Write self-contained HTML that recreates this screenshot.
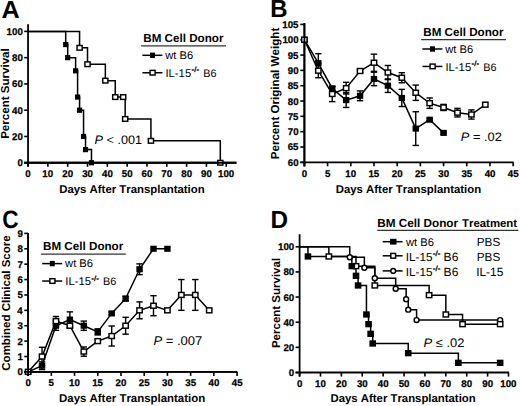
<!DOCTYPE html>
<html><head><meta charset="utf-8"><style>
html,body{margin:0;padding:0;background:#fff;}
body{width:520px;height:406px;overflow:hidden;}
.tk{stroke:#000;stroke-width:0.25px;}
.sp{stroke:#000;stroke-width:0.35px;}
svg{display:block;font-family:"Liberation Sans", sans-serif;font-kerning:none;text-rendering:geometricPrecision;}
</style></head><body>
<svg width="520" height="406" viewBox="0 0 520 406">
<rect width="520" height="406" fill="#fff"/>
<text x="1.47" y="17.6" font-size="24.8" font-weight="bold" textLength="18.19" lengthAdjust="spacingAndGlyphs" fill="#000">A</text>
<line x1="28.05" y1="24.3" x2="28.05" y2="166.8" stroke="#000" stroke-width="1.8"/>
<line x1="24.2" y1="162.75" x2="236.4" y2="162.75" stroke="#000" stroke-width="1.8"/>
<line x1="24.2" y1="162.75" x2="28.05" y2="162.75" stroke="#000" stroke-width="1.6"/>
<text x="17.4" y="166" font-size="9.7" font-weight="bold" class="tk" textLength="5.39" lengthAdjust="spacingAndGlyphs" fill="#000">0</text>
<line x1="24.2" y1="136.48" x2="28.05" y2="136.48" stroke="#000" stroke-width="1.6"/>
<text x="12.01" y="140" font-size="9.7" font-weight="bold" class="tk" textLength="10.79" lengthAdjust="spacingAndGlyphs" fill="#000">20</text>
<line x1="24.2" y1="110.21" x2="28.05" y2="110.21" stroke="#000" stroke-width="1.6"/>
<text x="12.01" y="114" font-size="9.7" font-weight="bold" class="tk" textLength="10.79" lengthAdjust="spacingAndGlyphs" fill="#000">40</text>
<line x1="24.2" y1="83.94" x2="28.05" y2="83.94" stroke="#000" stroke-width="1.6"/>
<text x="12.01" y="87" font-size="9.7" font-weight="bold" class="tk" textLength="10.79" lengthAdjust="spacingAndGlyphs" fill="#000">60</text>
<line x1="24.2" y1="57.67" x2="28.05" y2="57.67" stroke="#000" stroke-width="1.6"/>
<text x="12.01" y="61" font-size="9.7" font-weight="bold" class="tk" textLength="10.79" lengthAdjust="spacingAndGlyphs" fill="#000">80</text>
<line x1="24.2" y1="31.4" x2="28.05" y2="31.4" stroke="#000" stroke-width="1.6"/>
<text x="6.61" y="35" font-size="9.7" font-weight="bold" class="tk" textLength="16.18" lengthAdjust="spacingAndGlyphs" fill="#000">100</text>
<line x1="28.05" y1="162.75" x2="28.05" y2="166.8" stroke="#000" stroke-width="1.6"/>
<text x="25.36" y="177.4" font-size="9.7" font-weight="bold" class="tk" textLength="5.39" lengthAdjust="spacingAndGlyphs" fill="#000">0</text>
<line x1="47.87" y1="162.75" x2="47.87" y2="166.8" stroke="#000" stroke-width="1.6"/>
<text x="42.37" y="177.4" font-size="9.7" font-weight="bold" class="tk" textLength="10.79" lengthAdjust="spacingAndGlyphs" fill="#000">10</text>
<line x1="67.69" y1="162.75" x2="67.69" y2="166.8" stroke="#000" stroke-width="1.6"/>
<text x="62.33" y="177.4" font-size="9.7" font-weight="bold" class="tk" textLength="10.79" lengthAdjust="spacingAndGlyphs" fill="#000">20</text>
<line x1="87.51" y1="162.75" x2="87.51" y2="166.8" stroke="#000" stroke-width="1.6"/>
<text x="82.2" y="177.4" font-size="9.7" font-weight="bold" class="tk" textLength="10.79" lengthAdjust="spacingAndGlyphs" fill="#000">30</text>
<line x1="107.33" y1="162.75" x2="107.33" y2="166.8" stroke="#000" stroke-width="1.6"/>
<text x="102.06" y="177.4" font-size="9.7" font-weight="bold" class="tk" textLength="10.79" lengthAdjust="spacingAndGlyphs" fill="#000">40</text>
<line x1="127.15" y1="162.75" x2="127.15" y2="166.8" stroke="#000" stroke-width="1.6"/>
<text x="121.81" y="177.4" font-size="9.7" font-weight="bold" class="tk" textLength="10.79" lengthAdjust="spacingAndGlyphs" fill="#000">50</text>
<line x1="146.97" y1="162.75" x2="146.97" y2="166.8" stroke="#000" stroke-width="1.6"/>
<text x="141.6" y="177.4" font-size="9.7" font-weight="bold" class="tk" textLength="10.79" lengthAdjust="spacingAndGlyphs" fill="#000">60</text>
<line x1="166.79" y1="162.75" x2="166.79" y2="166.8" stroke="#000" stroke-width="1.6"/>
<text x="161.39" y="177.4" font-size="9.7" font-weight="bold" class="tk" textLength="10.79" lengthAdjust="spacingAndGlyphs" fill="#000">70</text>
<line x1="186.61" y1="162.75" x2="186.61" y2="166.8" stroke="#000" stroke-width="1.6"/>
<text x="181.26" y="177.4" font-size="9.7" font-weight="bold" class="tk" textLength="10.79" lengthAdjust="spacingAndGlyphs" fill="#000">80</text>
<line x1="206.43" y1="162.75" x2="206.43" y2="166.8" stroke="#000" stroke-width="1.6"/>
<text x="201.07" y="177.4" font-size="9.7" font-weight="bold" class="tk" textLength="10.79" lengthAdjust="spacingAndGlyphs" fill="#000">90</text>
<line x1="226.25" y1="162.75" x2="226.25" y2="166.8" stroke="#000" stroke-width="1.6"/>
<text x="218.05" y="177.4" font-size="9.7" font-weight="bold" class="tk" textLength="16.18" lengthAdjust="spacingAndGlyphs" fill="#000">100</text>
<text x="59.24" y="192.6" font-size="11.38" font-weight="bold" textLength="145.47" lengthAdjust="spacingAndGlyphs" fill="#000">Days After Transplantation</text>
<text transform="translate(8.9,138.1) rotate(-90)" x="-0.77" y="0" font-size="11.56" font-weight="bold" textLength="90.59" lengthAdjust="spacingAndGlyphs">Percent Survival</text>
<polyline points="28.05,31.4 79.58,31.4 79.58,47.82 87.51,47.82 87.51,64.24 105.35,64.24 105.35,80.66 115.26,80.66 115.26,97.08 125.17,97.08 125.17,118.97 150.93,118.97 150.93,140.86 220.3,140.86 220.3,162.75" fill="none" stroke="#000" stroke-width="1.5" stroke-linejoin="miter" stroke-linecap="butt"/>
<polyline points="28.05,31.4 65.71,31.4 65.71,44.54 67.69,44.54 67.69,57.67 75.62,57.67 75.62,70.81 77.6,70.81 77.6,97.08 79.58,97.08 79.58,110.21 83.55,110.21 83.55,136.48 85.53,136.48 85.53,149.62 91.47,149.62 91.47,162.75" fill="none" stroke="#000" stroke-width="1.5" stroke-linejoin="miter" stroke-linecap="butt"/>
<rect x="63.11" y="41.94" width="5.2" height="5.2" fill="#000"/>
<rect x="65.09" y="55.07" width="5.2" height="5.2" fill="#000"/>
<rect x="73.02" y="68.21" width="5.2" height="5.2" fill="#000"/>
<rect x="75" y="94.48" width="5.2" height="5.2" fill="#000"/>
<rect x="76.98" y="107.61" width="5.2" height="5.2" fill="#000"/>
<rect x="80.95" y="133.88" width="5.2" height="5.2" fill="#000"/>
<rect x="82.93" y="147.02" width="5.2" height="5.2" fill="#000"/>
<rect x="88.87" y="160.15" width="5.2" height="5.2" fill="#000"/>
<rect x="77.01" y="45.49" width="5.15" height="4.65" fill="#fff" stroke="#000" stroke-width="1.45"/>
<rect x="84.94" y="61.91" width="5.15" height="4.65" fill="#fff" stroke="#000" stroke-width="1.45"/>
<rect x="102.77" y="78.33" width="5.15" height="4.65" fill="#fff" stroke="#000" stroke-width="1.45"/>
<rect x="112.68" y="94.75" width="5.15" height="4.65" fill="#fff" stroke="#000" stroke-width="1.45"/>
<rect x="122.59" y="116.64" width="5.15" height="4.65" fill="#fff" stroke="#000" stroke-width="1.45"/>
<rect x="148.36" y="138.53" width="5.15" height="4.65" fill="#fff" stroke="#000" stroke-width="1.45"/>
<rect x="217.73" y="160.43" width="5.15" height="4.65" fill="#fff" stroke="#000" stroke-width="1.45"/>
<rect x="120.61" y="94.75" width="5.15" height="4.65" fill="#fff" stroke="#000" stroke-width="1.45"/>
<line x1="24.2" y1="162.75" x2="236.4" y2="162.75" stroke="#000" stroke-width="1.8"/>
<text x="94.61" y="144.2" font-size="12.2" textLength="47.51" lengthAdjust="spacingAndGlyphs"><tspan font-style="italic">P</tspan>&#160;&lt;&#160;.001</text>
<text x="143.22" y="42.1" font-size="11.65" font-weight="bold" textLength="80.26" lengthAdjust="spacingAndGlyphs" fill="#000">BM Cell Donor</text>
<line x1="141.1" y1="45.9" x2="226" y2="45.9" stroke="#333" stroke-width="1.3"/>
<line x1="142.4" y1="55.3" x2="162.4" y2="55.3" stroke="#000" stroke-width="1.5"/>
<rect x="150" y="52.6" width="5" height="5.4" fill="#000"/>
<text x="165.27" y="59" font-size="11.19" font-weight="normal" textLength="27.98" lengthAdjust="spacingAndGlyphs" fill="#000">wt B6</text>
<line x1="142.4" y1="72.75" x2="162.4" y2="72.75" stroke="#000" stroke-width="1.5"/>
<rect x="150.07" y="70.38" width="5.05" height="4.65" fill="#fff" stroke="#000" stroke-width="1.45"/>
<text x="165.46" y="76.9" font-size="11.28" font-weight="normal" textLength="25.71" lengthAdjust="spacingAndGlyphs" fill="#000">IL-15</text>
<text x="191.55" y="72.4" font-size="7.5" font-weight="normal" class="sp" textLength="7.51" lengthAdjust="spacingAndGlyphs" fill="#000">-/-</text>
<text x="203.21" y="76.9" font-size="10.85" font-weight="normal" textLength="13.27" lengthAdjust="spacingAndGlyphs" fill="#000">B6</text>
<text x="270.2" y="17.4" font-size="24.6" font-weight="bold" textLength="17.29" lengthAdjust="spacingAndGlyphs" fill="#000">B</text>
<line x1="304.4" y1="23.1" x2="304.4" y2="166.3" stroke="#000" stroke-width="1.8"/>
<line x1="300.3" y1="162.3" x2="513.6" y2="162.3" stroke="#000" stroke-width="1.8"/>
<line x1="300.3" y1="162.3" x2="304.4" y2="162.3" stroke="#000" stroke-width="1.6"/>
<text x="287.81" y="166" font-size="9.7" font-weight="bold" class="tk" textLength="10.79" lengthAdjust="spacingAndGlyphs" fill="#000">60</text>
<line x1="300.3" y1="146.98" x2="304.4" y2="146.98" stroke="#000" stroke-width="1.6"/>
<text x="287.68" y="150" font-size="9.7" font-weight="bold" class="tk" textLength="10.79" lengthAdjust="spacingAndGlyphs" fill="#000">65</text>
<line x1="300.3" y1="131.66" x2="304.4" y2="131.66" stroke="#000" stroke-width="1.6"/>
<text x="287.81" y="135" font-size="9.7" font-weight="bold" class="tk" textLength="10.79" lengthAdjust="spacingAndGlyphs" fill="#000">70</text>
<line x1="300.3" y1="116.34" x2="304.4" y2="116.34" stroke="#000" stroke-width="1.6"/>
<text x="287.68" y="120" font-size="9.7" font-weight="bold" class="tk" textLength="10.79" lengthAdjust="spacingAndGlyphs" fill="#000">75</text>
<line x1="300.3" y1="101.02" x2="304.4" y2="101.02" stroke="#000" stroke-width="1.6"/>
<text x="287.81" y="105" font-size="9.7" font-weight="bold" class="tk" textLength="10.79" lengthAdjust="spacingAndGlyphs" fill="#000">80</text>
<line x1="300.3" y1="85.7" x2="304.4" y2="85.7" stroke="#000" stroke-width="1.6"/>
<text x="287.68" y="89" font-size="9.7" font-weight="bold" class="tk" textLength="10.79" lengthAdjust="spacingAndGlyphs" fill="#000">85</text>
<line x1="300.3" y1="70.38" x2="304.4" y2="70.38" stroke="#000" stroke-width="1.6"/>
<text x="287.81" y="74" font-size="9.7" font-weight="bold" class="tk" textLength="10.79" lengthAdjust="spacingAndGlyphs" fill="#000">90</text>
<line x1="300.3" y1="55.06" x2="304.4" y2="55.06" stroke="#000" stroke-width="1.6"/>
<text x="287.68" y="59" font-size="9.7" font-weight="bold" class="tk" textLength="10.79" lengthAdjust="spacingAndGlyphs" fill="#000">95</text>
<line x1="300.3" y1="39.74" x2="304.4" y2="39.74" stroke="#000" stroke-width="1.6"/>
<text x="282.41" y="43" font-size="9.7" font-weight="bold" class="tk" textLength="16.18" lengthAdjust="spacingAndGlyphs" fill="#000">100</text>
<line x1="300.3" y1="24.42" x2="304.4" y2="24.42" stroke="#000" stroke-width="1.6"/>
<text x="282.29" y="28" font-size="9.7" font-weight="bold" class="tk" textLength="16.18" lengthAdjust="spacingAndGlyphs" fill="#000">105</text>
<line x1="304.4" y1="162.3" x2="304.4" y2="166.3" stroke="#000" stroke-width="1.6"/>
<text x="301.71" y="177.1" font-size="9.7" font-weight="bold" class="tk" textLength="5.39" lengthAdjust="spacingAndGlyphs" fill="#000">0</text>
<line x1="327.59" y1="162.3" x2="327.59" y2="166.3" stroke="#000" stroke-width="1.6"/>
<text x="324.88" y="177.1" font-size="9.7" font-weight="bold" class="tk" textLength="5.39" lengthAdjust="spacingAndGlyphs" fill="#000">5</text>
<line x1="350.79" y1="162.3" x2="350.79" y2="166.3" stroke="#000" stroke-width="1.6"/>
<text x="345.29" y="177.1" font-size="9.7" font-weight="bold" class="tk" textLength="10.79" lengthAdjust="spacingAndGlyphs" fill="#000">10</text>
<line x1="373.99" y1="162.3" x2="373.99" y2="166.3" stroke="#000" stroke-width="1.6"/>
<text x="368.42" y="177.1" font-size="9.7" font-weight="bold" class="tk" textLength="10.79" lengthAdjust="spacingAndGlyphs" fill="#000">15</text>
<line x1="397.18" y1="162.3" x2="397.18" y2="166.3" stroke="#000" stroke-width="1.6"/>
<text x="391.82" y="177.1" font-size="9.7" font-weight="bold" class="tk" textLength="10.79" lengthAdjust="spacingAndGlyphs" fill="#000">20</text>
<line x1="420.38" y1="162.3" x2="420.38" y2="166.3" stroke="#000" stroke-width="1.6"/>
<text x="414.95" y="177.1" font-size="9.7" font-weight="bold" class="tk" textLength="10.79" lengthAdjust="spacingAndGlyphs" fill="#000">25</text>
<line x1="443.57" y1="162.3" x2="443.57" y2="166.3" stroke="#000" stroke-width="1.6"/>
<text x="438.26" y="177.1" font-size="9.7" font-weight="bold" class="tk" textLength="10.79" lengthAdjust="spacingAndGlyphs" fill="#000">30</text>
<line x1="466.76" y1="162.3" x2="466.76" y2="166.3" stroke="#000" stroke-width="1.6"/>
<text x="461.39" y="177.1" font-size="9.7" font-weight="bold" class="tk" textLength="10.79" lengthAdjust="spacingAndGlyphs" fill="#000">35</text>
<line x1="489.96" y1="162.3" x2="489.96" y2="166.3" stroke="#000" stroke-width="1.6"/>
<text x="484.69" y="177.1" font-size="9.7" font-weight="bold" class="tk" textLength="10.79" lengthAdjust="spacingAndGlyphs" fill="#000">40</text>
<line x1="513.15" y1="162.3" x2="513.15" y2="166.3" stroke="#000" stroke-width="1.6"/>
<text x="507.82" y="177.1" font-size="9.7" font-weight="bold" class="tk" textLength="10.79" lengthAdjust="spacingAndGlyphs" fill="#000">45</text>
<text x="335.74" y="192.6" font-size="11.38" font-weight="bold" textLength="145.47" lengthAdjust="spacingAndGlyphs" fill="#000">Days After Transplantation</text>
<text transform="translate(278.8,158.55) rotate(-90)" x="-0.78" y="0" font-size="11.61" font-weight="bold" textLength="131.57" lengthAdjust="spacingAndGlyphs">Percent Original Weight</text>
<line x1="318.32" y1="53.68" x2="318.32" y2="72.68" stroke="#000" stroke-width="1.4"/>
<line x1="315.12" y1="53.68" x2="321.52" y2="53.68" stroke="#000" stroke-width="1.4"/>
<line x1="315.12" y1="72.68" x2="321.52" y2="72.68" stroke="#000" stroke-width="1.4"/>
<line x1="332.23" y1="86.62" x2="332.23" y2="90.3" stroke="#000" stroke-width="1.4"/>
<line x1="329.03" y1="86.62" x2="335.43" y2="86.62" stroke="#000" stroke-width="1.4"/>
<line x1="329.03" y1="90.3" x2="335.43" y2="90.3" stroke="#000" stroke-width="1.4"/>
<line x1="346.15" y1="92.75" x2="346.15" y2="107.45" stroke="#000" stroke-width="1.4"/>
<line x1="342.95" y1="92.75" x2="349.35" y2="92.75" stroke="#000" stroke-width="1.4"/>
<line x1="342.95" y1="107.45" x2="349.35" y2="107.45" stroke="#000" stroke-width="1.4"/>
<line x1="360.07" y1="90.91" x2="360.07" y2="100.71" stroke="#000" stroke-width="1.4"/>
<line x1="356.87" y1="90.91" x2="363.27" y2="90.91" stroke="#000" stroke-width="1.4"/>
<line x1="356.87" y1="100.71" x2="363.27" y2="100.71" stroke="#000" stroke-width="1.4"/>
<line x1="373.99" y1="72.22" x2="373.99" y2="85.7" stroke="#000" stroke-width="1.4"/>
<line x1="370.79" y1="72.22" x2="377.19" y2="72.22" stroke="#000" stroke-width="1.4"/>
<line x1="370.79" y1="85.7" x2="377.19" y2="85.7" stroke="#000" stroke-width="1.4"/>
<line x1="387.9" y1="78.96" x2="387.9" y2="92.44" stroke="#000" stroke-width="1.4"/>
<line x1="384.7" y1="78.96" x2="391.1" y2="78.96" stroke="#000" stroke-width="1.4"/>
<line x1="384.7" y1="92.44" x2="391.1" y2="92.44" stroke="#000" stroke-width="1.4"/>
<line x1="401.82" y1="89.38" x2="401.82" y2="106.54" stroke="#000" stroke-width="1.4"/>
<line x1="398.62" y1="89.38" x2="405.02" y2="89.38" stroke="#000" stroke-width="1.4"/>
<line x1="398.62" y1="106.54" x2="405.02" y2="106.54" stroke="#000" stroke-width="1.4"/>
<line x1="415.74" y1="111.74" x2="415.74" y2="145.45" stroke="#000" stroke-width="1.4"/>
<line x1="412.54" y1="111.74" x2="418.94" y2="111.74" stroke="#000" stroke-width="1.4"/>
<line x1="412.54" y1="145.45" x2="418.94" y2="145.45" stroke="#000" stroke-width="1.4"/>
<line x1="429.65" y1="118.48" x2="429.65" y2="120.94" stroke="#000" stroke-width="1.4"/>
<line x1="426.45" y1="118.48" x2="432.85" y2="118.48" stroke="#000" stroke-width="1.4"/>
<line x1="426.45" y1="120.94" x2="432.85" y2="120.94" stroke="#000" stroke-width="1.4"/>
<line x1="443.57" y1="131.66" x2="443.57" y2="134.11" stroke="#000" stroke-width="1.4"/>
<line x1="440.37" y1="131.66" x2="446.77" y2="131.66" stroke="#000" stroke-width="1.4"/>
<line x1="440.37" y1="134.11" x2="446.77" y2="134.11" stroke="#000" stroke-width="1.4"/>
<line x1="318.32" y1="63.64" x2="318.32" y2="77.73" stroke="#000" stroke-width="1.4"/>
<line x1="315.12" y1="63.64" x2="321.52" y2="63.64" stroke="#000" stroke-width="1.4"/>
<line x1="315.12" y1="77.73" x2="321.52" y2="77.73" stroke="#000" stroke-width="1.4"/>
<line x1="332.23" y1="86.31" x2="332.23" y2="101.63" stroke="#000" stroke-width="1.4"/>
<line x1="329.03" y1="86.31" x2="335.43" y2="86.31" stroke="#000" stroke-width="1.4"/>
<line x1="329.03" y1="101.63" x2="335.43" y2="101.63" stroke="#000" stroke-width="1.4"/>
<line x1="346.15" y1="82.33" x2="346.15" y2="93.97" stroke="#000" stroke-width="1.4"/>
<line x1="342.95" y1="82.33" x2="349.35" y2="82.33" stroke="#000" stroke-width="1.4"/>
<line x1="342.95" y1="93.97" x2="349.35" y2="93.97" stroke="#000" stroke-width="1.4"/>
<line x1="360.07" y1="69.77" x2="360.07" y2="72.22" stroke="#000" stroke-width="1.4"/>
<line x1="356.87" y1="69.77" x2="363.27" y2="69.77" stroke="#000" stroke-width="1.4"/>
<line x1="356.87" y1="72.22" x2="363.27" y2="72.22" stroke="#000" stroke-width="1.4"/>
<line x1="373.99" y1="54.14" x2="373.99" y2="71.3" stroke="#000" stroke-width="1.4"/>
<line x1="370.79" y1="54.14" x2="377.19" y2="54.14" stroke="#000" stroke-width="1.4"/>
<line x1="370.79" y1="71.3" x2="377.19" y2="71.3" stroke="#000" stroke-width="1.4"/>
<line x1="387.9" y1="65.48" x2="387.9" y2="79.57" stroke="#000" stroke-width="1.4"/>
<line x1="384.7" y1="65.48" x2="391.1" y2="65.48" stroke="#000" stroke-width="1.4"/>
<line x1="384.7" y1="79.57" x2="391.1" y2="79.57" stroke="#000" stroke-width="1.4"/>
<line x1="401.82" y1="72.68" x2="401.82" y2="82.79" stroke="#000" stroke-width="1.4"/>
<line x1="398.62" y1="72.68" x2="405.02" y2="72.68" stroke="#000" stroke-width="1.4"/>
<line x1="398.62" y1="82.79" x2="405.02" y2="82.79" stroke="#000" stroke-width="1.4"/>
<line x1="415.74" y1="85.09" x2="415.74" y2="100.41" stroke="#000" stroke-width="1.4"/>
<line x1="412.54" y1="85.09" x2="418.94" y2="85.09" stroke="#000" stroke-width="1.4"/>
<line x1="412.54" y1="100.41" x2="418.94" y2="100.41" stroke="#000" stroke-width="1.4"/>
<line x1="429.65" y1="97.96" x2="429.65" y2="108.37" stroke="#000" stroke-width="1.4"/>
<line x1="426.45" y1="97.96" x2="432.85" y2="97.96" stroke="#000" stroke-width="1.4"/>
<line x1="426.45" y1="108.37" x2="432.85" y2="108.37" stroke="#000" stroke-width="1.4"/>
<line x1="443.57" y1="104.39" x2="443.57" y2="110.52" stroke="#000" stroke-width="1.4"/>
<line x1="440.37" y1="104.39" x2="446.77" y2="104.39" stroke="#000" stroke-width="1.4"/>
<line x1="440.37" y1="110.52" x2="446.77" y2="110.52" stroke="#000" stroke-width="1.4"/>
<line x1="457.49" y1="108.37" x2="457.49" y2="116.95" stroke="#000" stroke-width="1.4"/>
<line x1="454.29" y1="108.37" x2="460.69" y2="108.37" stroke="#000" stroke-width="1.4"/>
<line x1="454.29" y1="116.95" x2="460.69" y2="116.95" stroke="#000" stroke-width="1.4"/>
<line x1="471.4" y1="109.91" x2="471.4" y2="119.1" stroke="#000" stroke-width="1.4"/>
<line x1="468.2" y1="109.91" x2="474.6" y2="109.91" stroke="#000" stroke-width="1.4"/>
<line x1="468.2" y1="119.1" x2="474.6" y2="119.1" stroke="#000" stroke-width="1.4"/>
<polyline points="304.4,39.74 318.32,63.18 332.23,88.46 346.15,100.1 360.07,95.81 373.99,78.96 387.9,85.7 401.82,97.96 415.74,128.6 429.65,119.71 443.57,132.89" fill="none" stroke="#000" stroke-width="1.5" stroke-linejoin="miter" stroke-linecap="butt"/>
<polyline points="304.4,39.74 318.32,70.69 332.23,93.97 346.15,88.15 360.07,70.99 373.99,62.72 387.9,72.52 401.82,77.73 415.74,92.75 429.65,103.16 443.57,107.45 457.49,112.66 471.4,114.5 485.32,104.7" fill="none" stroke="#000" stroke-width="1.5" stroke-linejoin="miter" stroke-linecap="butt"/>
<rect x="301.2" y="36.69" width="6.4" height="6.1" fill="#000"/>
<rect x="315.12" y="60.13" width="6.4" height="6.1" fill="#000"/>
<rect x="329.03" y="85.41" width="6.4" height="6.1" fill="#000"/>
<rect x="342.95" y="97.05" width="6.4" height="6.1" fill="#000"/>
<rect x="356.87" y="92.76" width="6.4" height="6.1" fill="#000"/>
<rect x="370.79" y="75.91" width="6.4" height="6.1" fill="#000"/>
<rect x="384.7" y="82.65" width="6.4" height="6.1" fill="#000"/>
<rect x="398.62" y="94.91" width="6.4" height="6.1" fill="#000"/>
<rect x="412.54" y="125.55" width="6.4" height="6.1" fill="#000"/>
<rect x="426.45" y="116.66" width="6.4" height="6.1" fill="#000"/>
<rect x="440.37" y="129.84" width="6.4" height="6.1" fill="#000"/>
<rect x="301.72" y="37.27" width="5.35" height="4.95" fill="#fff" stroke="#000" stroke-width="1.45"/>
<rect x="315.64" y="68.21" width="5.35" height="4.95" fill="#fff" stroke="#000" stroke-width="1.45"/>
<rect x="329.56" y="91.5" width="5.35" height="4.95" fill="#fff" stroke="#000" stroke-width="1.45"/>
<rect x="343.48" y="85.68" width="5.35" height="4.95" fill="#fff" stroke="#000" stroke-width="1.45"/>
<rect x="357.39" y="68.52" width="5.35" height="4.95" fill="#fff" stroke="#000" stroke-width="1.45"/>
<rect x="371.31" y="60.25" width="5.35" height="4.95" fill="#fff" stroke="#000" stroke-width="1.45"/>
<rect x="385.23" y="70.05" width="5.35" height="4.95" fill="#fff" stroke="#000" stroke-width="1.45"/>
<rect x="399.14" y="75.26" width="5.35" height="4.95" fill="#fff" stroke="#000" stroke-width="1.45"/>
<rect x="413.06" y="90.27" width="5.35" height="4.95" fill="#fff" stroke="#000" stroke-width="1.45"/>
<rect x="426.98" y="100.69" width="5.35" height="4.95" fill="#fff" stroke="#000" stroke-width="1.45"/>
<rect x="440.89" y="104.98" width="5.35" height="4.95" fill="#fff" stroke="#000" stroke-width="1.45"/>
<rect x="454.81" y="110.19" width="5.35" height="4.95" fill="#fff" stroke="#000" stroke-width="1.45"/>
<rect x="468.73" y="112.03" width="5.35" height="4.95" fill="#fff" stroke="#000" stroke-width="1.45"/>
<rect x="482.65" y="102.22" width="5.35" height="4.95" fill="#fff" stroke="#000" stroke-width="1.45"/>
<line x1="304.4" y1="23.1" x2="304.4" y2="166.3" stroke="#000" stroke-width="1.8"/>
<text x="460.86" y="140.5" font-size="12.2" textLength="40.99" lengthAdjust="spacingAndGlyphs"><tspan font-style="italic">P</tspan>&#160;=&#160;.02</text>
<text x="423.22" y="35.8" font-size="11.65" font-weight="bold" textLength="80.26" lengthAdjust="spacingAndGlyphs" fill="#000">BM Cell Donor</text>
<line x1="421.1" y1="39.6" x2="506" y2="39.6" stroke="#333" stroke-width="1.3"/>
<line x1="422.4" y1="49" x2="442.4" y2="49" stroke="#000" stroke-width="1.5"/>
<rect x="430" y="46.3" width="5" height="5.4" fill="#000"/>
<text x="445.27" y="52.7" font-size="11.19" font-weight="normal" textLength="27.98" lengthAdjust="spacingAndGlyphs" fill="#000">wt B6</text>
<line x1="422.4" y1="66.45" x2="442.4" y2="66.45" stroke="#000" stroke-width="1.5"/>
<rect x="430.08" y="64.08" width="5.05" height="4.65" fill="#fff" stroke="#000" stroke-width="1.45"/>
<text x="445.46" y="70.6" font-size="11.28" font-weight="normal" textLength="25.71" lengthAdjust="spacingAndGlyphs" fill="#000">IL-15</text>
<text x="471.55" y="66.1" font-size="7.5" font-weight="normal" class="sp" textLength="7.51" lengthAdjust="spacingAndGlyphs" fill="#000">-/-</text>
<text x="483.21" y="70.6" font-size="10.85" font-weight="normal" textLength="13.27" lengthAdjust="spacingAndGlyphs" fill="#000">B6</text>
<text x="2.37" y="227.95" font-size="25.2" font-weight="bold" textLength="16.35" lengthAdjust="spacingAndGlyphs" fill="#000">C</text>
<line x1="28.1" y1="233" x2="28.1" y2="375.9" stroke="#000" stroke-width="1.8"/>
<line x1="24.3" y1="371.9" x2="237.2" y2="371.9" stroke="#000" stroke-width="1.8"/>
<line x1="24.3" y1="371.9" x2="28.1" y2="371.9" stroke="#000" stroke-width="1.6"/>
<text x="17.5" y="375" font-size="9.7" font-weight="bold" class="tk" textLength="5.39" lengthAdjust="spacingAndGlyphs" fill="#000">0</text>
<line x1="24.3" y1="356.51" x2="28.1" y2="356.51" stroke="#000" stroke-width="1.6"/>
<text x="17.38" y="360" font-size="9.7" font-weight="bold" class="tk" textLength="5.39" lengthAdjust="spacingAndGlyphs" fill="#000">1</text>
<line x1="24.3" y1="341.12" x2="28.1" y2="341.12" stroke="#000" stroke-width="1.6"/>
<text x="17.49" y="345" font-size="9.7" font-weight="bold" class="tk" textLength="5.39" lengthAdjust="spacingAndGlyphs" fill="#000">2</text>
<line x1="24.3" y1="325.73" x2="28.1" y2="325.73" stroke="#000" stroke-width="1.6"/>
<text x="17.46" y="329" font-size="9.7" font-weight="bold" class="tk" textLength="5.39" lengthAdjust="spacingAndGlyphs" fill="#000">3</text>
<line x1="24.3" y1="310.34" x2="28.1" y2="310.34" stroke="#000" stroke-width="1.6"/>
<text x="17.16" y="314" font-size="9.7" font-weight="bold" class="tk" textLength="5.39" lengthAdjust="spacingAndGlyphs" fill="#000">4</text>
<line x1="24.3" y1="294.95" x2="28.1" y2="294.95" stroke="#000" stroke-width="1.6"/>
<text x="17.38" y="298" font-size="9.7" font-weight="bold" class="tk" textLength="5.39" lengthAdjust="spacingAndGlyphs" fill="#000">5</text>
<line x1="24.3" y1="279.56" x2="28.1" y2="279.56" stroke="#000" stroke-width="1.6"/>
<text x="17.46" y="283" font-size="9.7" font-weight="bold" class="tk" textLength="5.39" lengthAdjust="spacingAndGlyphs" fill="#000">6</text>
<line x1="24.3" y1="264.17" x2="28.1" y2="264.17" stroke="#000" stroke-width="1.6"/>
<text x="17.53" y="268" font-size="9.7" font-weight="bold" class="tk" textLength="5.39" lengthAdjust="spacingAndGlyphs" fill="#000">7</text>
<line x1="24.3" y1="248.78" x2="28.1" y2="248.78" stroke="#000" stroke-width="1.6"/>
<text x="17.4" y="252" font-size="9.7" font-weight="bold" class="tk" textLength="5.39" lengthAdjust="spacingAndGlyphs" fill="#000">8</text>
<line x1="24.3" y1="233.39" x2="28.1" y2="233.39" stroke="#000" stroke-width="1.6"/>
<text x="17.47" y="237" font-size="9.7" font-weight="bold" class="tk" textLength="5.39" lengthAdjust="spacingAndGlyphs" fill="#000">9</text>
<line x1="28.1" y1="371.9" x2="28.1" y2="375.9" stroke="#000" stroke-width="1.6"/>
<text x="25.41" y="386.1" font-size="9.7" font-weight="bold" class="tk" textLength="5.39" lengthAdjust="spacingAndGlyphs" fill="#000">0</text>
<line x1="51.32" y1="371.9" x2="51.32" y2="375.9" stroke="#000" stroke-width="1.6"/>
<text x="48.61" y="386.1" font-size="9.7" font-weight="bold" class="tk" textLength="5.39" lengthAdjust="spacingAndGlyphs" fill="#000">5</text>
<line x1="74.54" y1="371.9" x2="74.54" y2="375.9" stroke="#000" stroke-width="1.6"/>
<text x="69.04" y="386.1" font-size="9.7" font-weight="bold" class="tk" textLength="10.79" lengthAdjust="spacingAndGlyphs" fill="#000">10</text>
<line x1="97.76" y1="371.9" x2="97.76" y2="375.9" stroke="#000" stroke-width="1.6"/>
<text x="92.19" y="386.1" font-size="9.7" font-weight="bold" class="tk" textLength="10.79" lengthAdjust="spacingAndGlyphs" fill="#000">15</text>
<line x1="120.98" y1="371.9" x2="120.98" y2="375.9" stroke="#000" stroke-width="1.6"/>
<text x="115.62" y="386.1" font-size="9.7" font-weight="bold" class="tk" textLength="10.79" lengthAdjust="spacingAndGlyphs" fill="#000">20</text>
<line x1="144.2" y1="371.9" x2="144.2" y2="375.9" stroke="#000" stroke-width="1.6"/>
<text x="138.77" y="386.1" font-size="9.7" font-weight="bold" class="tk" textLength="10.79" lengthAdjust="spacingAndGlyphs" fill="#000">25</text>
<line x1="167.42" y1="371.9" x2="167.42" y2="375.9" stroke="#000" stroke-width="1.6"/>
<text x="162.11" y="386.1" font-size="9.7" font-weight="bold" class="tk" textLength="10.79" lengthAdjust="spacingAndGlyphs" fill="#000">30</text>
<line x1="190.64" y1="371.9" x2="190.64" y2="375.9" stroke="#000" stroke-width="1.6"/>
<text x="185.27" y="386.1" font-size="9.7" font-weight="bold" class="tk" textLength="10.79" lengthAdjust="spacingAndGlyphs" fill="#000">35</text>
<line x1="213.86" y1="371.9" x2="213.86" y2="375.9" stroke="#000" stroke-width="1.6"/>
<text x="208.59" y="386.1" font-size="9.7" font-weight="bold" class="tk" textLength="10.79" lengthAdjust="spacingAndGlyphs" fill="#000">40</text>
<line x1="237.08" y1="371.9" x2="237.08" y2="375.9" stroke="#000" stroke-width="1.6"/>
<text x="231.75" y="386.1" font-size="9.7" font-weight="bold" class="tk" textLength="10.79" lengthAdjust="spacingAndGlyphs" fill="#000">45</text>
<text x="59.03" y="401.8" font-size="11.44" font-weight="bold" textLength="146.17" lengthAdjust="spacingAndGlyphs" fill="#000">Days After Transplantation</text>
<text transform="translate(9.8,370.2) rotate(-90)" x="-0.47" y="0" font-size="11.48" font-weight="bold" textLength="135.26" lengthAdjust="spacingAndGlyphs">Combined Clinical Score</text>
<line x1="42.03" y1="361.9" x2="42.03" y2="369.59" stroke="#000" stroke-width="1.4"/>
<line x1="38.83" y1="361.9" x2="45.23" y2="361.9" stroke="#000" stroke-width="1.4"/>
<line x1="38.83" y1="369.59" x2="45.23" y2="369.59" stroke="#000" stroke-width="1.4"/>
<line x1="55.96" y1="321.11" x2="55.96" y2="330.35" stroke="#000" stroke-width="1.4"/>
<line x1="52.76" y1="321.11" x2="59.16" y2="321.11" stroke="#000" stroke-width="1.4"/>
<line x1="52.76" y1="330.35" x2="59.16" y2="330.35" stroke="#000" stroke-width="1.4"/>
<line x1="69.9" y1="311.88" x2="69.9" y2="327.27" stroke="#000" stroke-width="1.4"/>
<line x1="66.7" y1="311.88" x2="73.1" y2="311.88" stroke="#000" stroke-width="1.4"/>
<line x1="66.7" y1="327.27" x2="73.1" y2="327.27" stroke="#000" stroke-width="1.4"/>
<line x1="83.83" y1="321.11" x2="83.83" y2="330.35" stroke="#000" stroke-width="1.4"/>
<line x1="80.63" y1="321.11" x2="87.03" y2="321.11" stroke="#000" stroke-width="1.4"/>
<line x1="80.63" y1="330.35" x2="87.03" y2="330.35" stroke="#000" stroke-width="1.4"/>
<line x1="97.76" y1="328.81" x2="97.76" y2="334.96" stroke="#000" stroke-width="1.4"/>
<line x1="94.56" y1="328.81" x2="100.96" y2="328.81" stroke="#000" stroke-width="1.4"/>
<line x1="94.56" y1="334.96" x2="100.96" y2="334.96" stroke="#000" stroke-width="1.4"/>
<line x1="111.69" y1="311.88" x2="111.69" y2="314.96" stroke="#000" stroke-width="1.4"/>
<line x1="108.49" y1="311.88" x2="114.89" y2="311.88" stroke="#000" stroke-width="1.4"/>
<line x1="108.49" y1="314.96" x2="114.89" y2="314.96" stroke="#000" stroke-width="1.4"/>
<line x1="125.62" y1="296.34" x2="125.62" y2="300.95" stroke="#000" stroke-width="1.4"/>
<line x1="122.42" y1="296.34" x2="128.82" y2="296.34" stroke="#000" stroke-width="1.4"/>
<line x1="122.42" y1="300.95" x2="128.82" y2="300.95" stroke="#000" stroke-width="1.4"/>
<line x1="139.56" y1="263.86" x2="139.56" y2="274.64" stroke="#000" stroke-width="1.4"/>
<line x1="136.36" y1="263.86" x2="142.76" y2="263.86" stroke="#000" stroke-width="1.4"/>
<line x1="136.36" y1="274.64" x2="142.76" y2="274.64" stroke="#000" stroke-width="1.4"/>
<line x1="42.03" y1="347.28" x2="42.03" y2="365.74" stroke="#000" stroke-width="1.4"/>
<line x1="38.83" y1="347.28" x2="45.23" y2="347.28" stroke="#000" stroke-width="1.4"/>
<line x1="38.83" y1="365.74" x2="45.23" y2="365.74" stroke="#000" stroke-width="1.4"/>
<line x1="55.96" y1="316.5" x2="55.96" y2="325.73" stroke="#000" stroke-width="1.4"/>
<line x1="52.76" y1="316.5" x2="59.16" y2="316.5" stroke="#000" stroke-width="1.4"/>
<line x1="52.76" y1="325.73" x2="59.16" y2="325.73" stroke="#000" stroke-width="1.4"/>
<line x1="69.9" y1="323.42" x2="69.9" y2="328.04" stroke="#000" stroke-width="1.4"/>
<line x1="66.7" y1="323.42" x2="73.1" y2="323.42" stroke="#000" stroke-width="1.4"/>
<line x1="66.7" y1="328.04" x2="73.1" y2="328.04" stroke="#000" stroke-width="1.4"/>
<line x1="83.83" y1="346.97" x2="83.83" y2="356.2" stroke="#000" stroke-width="1.4"/>
<line x1="80.63" y1="346.97" x2="87.03" y2="346.97" stroke="#000" stroke-width="1.4"/>
<line x1="80.63" y1="356.2" x2="87.03" y2="356.2" stroke="#000" stroke-width="1.4"/>
<line x1="97.76" y1="339.58" x2="97.76" y2="342.66" stroke="#000" stroke-width="1.4"/>
<line x1="94.56" y1="339.58" x2="100.96" y2="339.58" stroke="#000" stroke-width="1.4"/>
<line x1="94.56" y1="342.66" x2="100.96" y2="342.66" stroke="#000" stroke-width="1.4"/>
<line x1="111.69" y1="326.04" x2="111.69" y2="346.04" stroke="#000" stroke-width="1.4"/>
<line x1="108.49" y1="326.04" x2="114.89" y2="326.04" stroke="#000" stroke-width="1.4"/>
<line x1="108.49" y1="346.04" x2="114.89" y2="346.04" stroke="#000" stroke-width="1.4"/>
<line x1="125.62" y1="317.27" x2="125.62" y2="334.19" stroke="#000" stroke-width="1.4"/>
<line x1="122.42" y1="317.27" x2="128.82" y2="317.27" stroke="#000" stroke-width="1.4"/>
<line x1="122.42" y1="334.19" x2="128.82" y2="334.19" stroke="#000" stroke-width="1.4"/>
<line x1="139.56" y1="301.88" x2="139.56" y2="318.8" stroke="#000" stroke-width="1.4"/>
<line x1="136.36" y1="301.88" x2="142.76" y2="301.88" stroke="#000" stroke-width="1.4"/>
<line x1="136.36" y1="318.8" x2="142.76" y2="318.8" stroke="#000" stroke-width="1.4"/>
<line x1="153.49" y1="295.72" x2="153.49" y2="315.73" stroke="#000" stroke-width="1.4"/>
<line x1="150.29" y1="295.72" x2="156.69" y2="295.72" stroke="#000" stroke-width="1.4"/>
<line x1="150.29" y1="315.73" x2="156.69" y2="315.73" stroke="#000" stroke-width="1.4"/>
<line x1="181.35" y1="279.56" x2="181.35" y2="310.34" stroke="#000" stroke-width="1.4"/>
<line x1="178.15" y1="279.56" x2="184.55" y2="279.56" stroke="#000" stroke-width="1.4"/>
<line x1="178.15" y1="310.34" x2="184.55" y2="310.34" stroke="#000" stroke-width="1.4"/>
<line x1="195.28" y1="279.56" x2="195.28" y2="310.34" stroke="#000" stroke-width="1.4"/>
<line x1="192.08" y1="279.56" x2="198.48" y2="279.56" stroke="#000" stroke-width="1.4"/>
<line x1="192.08" y1="310.34" x2="198.48" y2="310.34" stroke="#000" stroke-width="1.4"/>
<polyline points="28.1,371.9 42.03,365.74 55.96,325.73 69.9,319.57 83.83,325.73 97.76,331.89 111.69,313.42 125.62,298.64 139.56,269.25 153.49,248.78 167.42,248.78" fill="none" stroke="#000" stroke-width="1.5" stroke-linejoin="miter" stroke-linecap="butt"/>
<polyline points="28.1,371.9 42.03,356.51 55.96,321.11 69.9,325.73 83.83,351.59 97.76,341.12 111.69,336.04 125.62,325.73 139.56,310.34 153.49,305.72 167.42,310.34 181.35,294.95 195.28,294.95 209.22,310.34" fill="none" stroke="#000" stroke-width="1.5" stroke-linejoin="miter" stroke-linecap="butt"/>
<rect x="24.9" y="368.85" width="6.4" height="6.1" fill="#000"/>
<rect x="38.83" y="362.69" width="6.4" height="6.1" fill="#000"/>
<rect x="52.76" y="322.68" width="6.4" height="6.1" fill="#000"/>
<rect x="66.7" y="316.52" width="6.4" height="6.1" fill="#000"/>
<rect x="80.63" y="322.68" width="6.4" height="6.1" fill="#000"/>
<rect x="94.56" y="328.84" width="6.4" height="6.1" fill="#000"/>
<rect x="108.49" y="310.37" width="6.4" height="6.1" fill="#000"/>
<rect x="122.42" y="295.59" width="6.4" height="6.1" fill="#000"/>
<rect x="136.36" y="266.2" width="6.4" height="6.1" fill="#000"/>
<rect x="150.29" y="245.73" width="6.4" height="6.1" fill="#000"/>
<rect x="164.22" y="245.73" width="6.4" height="6.1" fill="#000"/>
<rect x="25.43" y="369.42" width="5.35" height="4.95" fill="#fff" stroke="#000" stroke-width="1.45"/>
<rect x="39.36" y="354.03" width="5.35" height="4.95" fill="#fff" stroke="#000" stroke-width="1.45"/>
<rect x="53.29" y="318.64" width="5.35" height="4.95" fill="#fff" stroke="#000" stroke-width="1.45"/>
<rect x="67.22" y="323.25" width="5.35" height="4.95" fill="#fff" stroke="#000" stroke-width="1.45"/>
<rect x="81.15" y="349.11" width="5.35" height="4.95" fill="#fff" stroke="#000" stroke-width="1.45"/>
<rect x="95.08" y="338.64" width="5.35" height="4.95" fill="#fff" stroke="#000" stroke-width="1.45"/>
<rect x="109.02" y="333.57" width="5.35" height="4.95" fill="#fff" stroke="#000" stroke-width="1.45"/>
<rect x="122.95" y="323.25" width="5.35" height="4.95" fill="#fff" stroke="#000" stroke-width="1.45"/>
<rect x="136.88" y="307.86" width="5.35" height="4.95" fill="#fff" stroke="#000" stroke-width="1.45"/>
<rect x="150.81" y="303.25" width="5.35" height="4.95" fill="#fff" stroke="#000" stroke-width="1.45"/>
<rect x="164.74" y="307.86" width="5.35" height="4.95" fill="#fff" stroke="#000" stroke-width="1.45"/>
<rect x="178.68" y="292.47" width="5.35" height="4.95" fill="#fff" stroke="#000" stroke-width="1.45"/>
<rect x="192.61" y="292.47" width="5.35" height="4.95" fill="#fff" stroke="#000" stroke-width="1.45"/>
<rect x="206.54" y="307.86" width="5.35" height="4.95" fill="#fff" stroke="#000" stroke-width="1.45"/>
<line x1="28.1" y1="233" x2="28.1" y2="375.9" stroke="#000" stroke-width="1.8"/>
<line x1="24.3" y1="371.9" x2="237.2" y2="371.9" stroke="#000" stroke-width="1.8"/>
<text x="153.5" y="344.6" font-size="12.6" textLength="48.86" lengthAdjust="spacingAndGlyphs"><tspan font-style="italic">P</tspan>&#160;=&#160;.007</text>
<text x="43.02" y="250.4" font-size="11.65" font-weight="bold" textLength="80.26" lengthAdjust="spacingAndGlyphs" fill="#000">BM Cell Donor</text>
<line x1="40.9" y1="254.2" x2="125.8" y2="254.2" stroke="#333" stroke-width="1.3"/>
<line x1="42.2" y1="263.6" x2="62.2" y2="263.6" stroke="#000" stroke-width="1.5"/>
<rect x="49.8" y="260.9" width="5" height="5.4" fill="#000"/>
<text x="65.07" y="267.3" font-size="11.19" font-weight="normal" textLength="27.98" lengthAdjust="spacingAndGlyphs" fill="#000">wt B6</text>
<line x1="42.2" y1="281.05" x2="62.2" y2="281.05" stroke="#000" stroke-width="1.5"/>
<rect x="49.87" y="278.68" width="5.05" height="4.65" fill="#fff" stroke="#000" stroke-width="1.45"/>
<text x="65.26" y="285.2" font-size="11.28" font-weight="normal" textLength="25.71" lengthAdjust="spacingAndGlyphs" fill="#000">IL-15</text>
<text x="91.35" y="280.7" font-size="7.5" font-weight="normal" class="sp" textLength="7.51" lengthAdjust="spacingAndGlyphs" fill="#000">-/-</text>
<text x="103.01" y="285.2" font-size="10.85" font-weight="normal" textLength="13.27" lengthAdjust="spacingAndGlyphs" fill="#000">B6</text>
<text x="270.57" y="227.7" font-size="24.6" font-weight="bold" textLength="17.55" lengthAdjust="spacingAndGlyphs" fill="#000">D</text>
<line x1="299.6" y1="234.2" x2="299.6" y2="376.6" stroke="#000" stroke-width="1.8"/>
<line x1="295.6" y1="372.5" x2="509" y2="372.5" stroke="#000" stroke-width="1.8"/>
<line x1="295.6" y1="372.5" x2="299.6" y2="372.5" stroke="#000" stroke-width="1.6"/>
<text x="288.8" y="376" font-size="9.7" font-weight="bold" class="tk" textLength="5.39" lengthAdjust="spacingAndGlyphs" fill="#000">0</text>
<line x1="295.6" y1="347.36" x2="299.6" y2="347.36" stroke="#000" stroke-width="1.6"/>
<text x="283.41" y="351" font-size="9.7" font-weight="bold" class="tk" textLength="10.79" lengthAdjust="spacingAndGlyphs" fill="#000">20</text>
<line x1="295.6" y1="322.22" x2="299.6" y2="322.22" stroke="#000" stroke-width="1.6"/>
<text x="283.41" y="326" font-size="9.7" font-weight="bold" class="tk" textLength="10.79" lengthAdjust="spacingAndGlyphs" fill="#000">40</text>
<line x1="295.6" y1="297.08" x2="299.6" y2="297.08" stroke="#000" stroke-width="1.6"/>
<text x="283.41" y="301" font-size="9.7" font-weight="bold" class="tk" textLength="10.79" lengthAdjust="spacingAndGlyphs" fill="#000">60</text>
<line x1="295.6" y1="271.94" x2="299.6" y2="271.94" stroke="#000" stroke-width="1.6"/>
<text x="283.41" y="275" font-size="9.7" font-weight="bold" class="tk" textLength="10.79" lengthAdjust="spacingAndGlyphs" fill="#000">80</text>
<line x1="295.6" y1="246.8" x2="299.6" y2="246.8" stroke="#000" stroke-width="1.6"/>
<text x="278.01" y="250" font-size="9.7" font-weight="bold" class="tk" textLength="16.18" lengthAdjust="spacingAndGlyphs" fill="#000">100</text>
<line x1="299.6" y1="372.5" x2="299.6" y2="376.6" stroke="#000" stroke-width="1.6"/>
<text x="296.91" y="387.1" font-size="9.7" font-weight="bold" class="tk" textLength="5.39" lengthAdjust="spacingAndGlyphs" fill="#000">0</text>
<line x1="320.49" y1="372.5" x2="320.49" y2="376.6" stroke="#000" stroke-width="1.6"/>
<text x="314.99" y="387.1" font-size="9.7" font-weight="bold" class="tk" textLength="10.79" lengthAdjust="spacingAndGlyphs" fill="#000">10</text>
<line x1="341.38" y1="372.5" x2="341.38" y2="376.6" stroke="#000" stroke-width="1.6"/>
<text x="336.02" y="387.1" font-size="9.7" font-weight="bold" class="tk" textLength="10.79" lengthAdjust="spacingAndGlyphs" fill="#000">20</text>
<line x1="362.27" y1="372.5" x2="362.27" y2="376.6" stroke="#000" stroke-width="1.6"/>
<text x="356.96" y="387.1" font-size="9.7" font-weight="bold" class="tk" textLength="10.79" lengthAdjust="spacingAndGlyphs" fill="#000">30</text>
<line x1="383.16" y1="372.5" x2="383.16" y2="376.6" stroke="#000" stroke-width="1.6"/>
<text x="377.89" y="387.1" font-size="9.7" font-weight="bold" class="tk" textLength="10.79" lengthAdjust="spacingAndGlyphs" fill="#000">40</text>
<line x1="404.05" y1="372.5" x2="404.05" y2="376.6" stroke="#000" stroke-width="1.6"/>
<text x="398.71" y="387.1" font-size="9.7" font-weight="bold" class="tk" textLength="10.79" lengthAdjust="spacingAndGlyphs" fill="#000">50</text>
<line x1="424.94" y1="372.5" x2="424.94" y2="376.6" stroke="#000" stroke-width="1.6"/>
<text x="419.57" y="387.1" font-size="9.7" font-weight="bold" class="tk" textLength="10.79" lengthAdjust="spacingAndGlyphs" fill="#000">60</text>
<line x1="445.83" y1="372.5" x2="445.83" y2="376.6" stroke="#000" stroke-width="1.6"/>
<text x="440.43" y="387.1" font-size="9.7" font-weight="bold" class="tk" textLength="10.79" lengthAdjust="spacingAndGlyphs" fill="#000">70</text>
<line x1="466.72" y1="372.5" x2="466.72" y2="376.6" stroke="#000" stroke-width="1.6"/>
<text x="461.37" y="387.1" font-size="9.7" font-weight="bold" class="tk" textLength="10.79" lengthAdjust="spacingAndGlyphs" fill="#000">80</text>
<line x1="487.61" y1="372.5" x2="487.61" y2="376.6" stroke="#000" stroke-width="1.6"/>
<text x="482.25" y="387.1" font-size="9.7" font-weight="bold" class="tk" textLength="10.79" lengthAdjust="spacingAndGlyphs" fill="#000">90</text>
<line x1="508.5" y1="372.5" x2="508.5" y2="376.6" stroke="#000" stroke-width="1.6"/>
<text x="500.3" y="387.1" font-size="9.7" font-weight="bold" class="tk" textLength="16.18" lengthAdjust="spacingAndGlyphs" fill="#000">100</text>
<text x="330.49" y="401.8" font-size="11.36" font-weight="bold" textLength="145.21" lengthAdjust="spacingAndGlyphs" fill="#000">Days After Transplantation</text>
<text transform="translate(280.3,347.3) rotate(-90)" x="-0.77" y="0" font-size="11.51" font-weight="bold" textLength="90.18" lengthAdjust="spacingAndGlyphs">Percent Survival</text>
<polyline points="299.6,246.8 349.74,246.8 349.74,257.27 364.36,257.27 364.36,267.75 374.8,267.75 374.8,278.23 395.69,278.23 395.69,288.7 406.14,288.7 406.14,299.18 408.23,299.18 408.23,309.65 416.58,309.65 416.58,320.12 500.14,320.12" fill="none" stroke="#000" stroke-width="1.5" stroke-linejoin="miter" stroke-linecap="butt"/>
<polyline points="299.6,246.8 328.85,246.8 328.85,256.47 356,256.47 356,266.14 374.8,266.14 374.8,285.48 429.12,285.48 429.12,295.15 445.83,295.15 445.83,314.48 462.54,314.48 462.54,324.15 500.14,324.15" fill="none" stroke="#000" stroke-width="1.5" stroke-linejoin="miter" stroke-linecap="butt"/>
<polyline points="299.6,246.8 307.96,246.8 307.96,256.47 351.83,256.47 351.83,266.14 356,266.14 356,275.81 358.09,275.81 358.09,285.48 366.45,285.48 366.45,314.48 368.54,314.48 368.54,324.15 370.63,324.15 370.63,333.82 372.72,333.82 372.72,343.49 408.23,343.49 408.23,353.16 458.36,353.16 458.36,362.83 500.14,362.83" fill="none" stroke="#000" stroke-width="1.5" stroke-linejoin="miter" stroke-linecap="butt"/>
<circle cx="349.74" cy="257.27" r="2.48" fill="#fff" stroke="#000" stroke-width="1.45"/>
<circle cx="364.36" cy="267.75" r="2.48" fill="#fff" stroke="#000" stroke-width="1.45"/>
<circle cx="374.8" cy="278.23" r="2.48" fill="#fff" stroke="#000" stroke-width="1.45"/>
<circle cx="395.69" cy="288.7" r="2.48" fill="#fff" stroke="#000" stroke-width="1.45"/>
<circle cx="406.14" cy="299.18" r="2.48" fill="#fff" stroke="#000" stroke-width="1.45"/>
<circle cx="408.23" cy="309.65" r="2.48" fill="#fff" stroke="#000" stroke-width="1.45"/>
<circle cx="416.58" cy="320.12" r="2.48" fill="#fff" stroke="#000" stroke-width="1.45"/>
<circle cx="500.14" cy="320.12" r="2.48" fill="#fff" stroke="#000" stroke-width="1.45"/>
<rect x="326.17" y="253.99" width="5.35" height="4.95" fill="#fff" stroke="#000" stroke-width="1.45"/>
<rect x="353.33" y="263.66" width="5.35" height="4.95" fill="#fff" stroke="#000" stroke-width="1.45"/>
<rect x="372.13" y="283" width="5.35" height="4.95" fill="#fff" stroke="#000" stroke-width="1.45"/>
<rect x="426.44" y="292.67" width="5.35" height="4.95" fill="#fff" stroke="#000" stroke-width="1.45"/>
<rect x="443.16" y="312.01" width="5.35" height="4.95" fill="#fff" stroke="#000" stroke-width="1.45"/>
<rect x="459.87" y="321.68" width="5.35" height="4.95" fill="#fff" stroke="#000" stroke-width="1.45"/>
<rect x="497.47" y="321.68" width="5.35" height="4.95" fill="#fff" stroke="#000" stroke-width="1.45"/>
<rect x="304.66" y="253.32" width="6.6" height="6.3" fill="#000"/>
<rect x="348.53" y="262.99" width="6.6" height="6.3" fill="#000"/>
<rect x="352.7" y="272.66" width="6.6" height="6.3" fill="#000"/>
<rect x="354.79" y="282.33" width="6.6" height="6.3" fill="#000"/>
<rect x="363.15" y="311.33" width="6.6" height="6.3" fill="#000"/>
<rect x="365.24" y="321" width="6.6" height="6.3" fill="#000"/>
<rect x="367.33" y="330.67" width="6.6" height="6.3" fill="#000"/>
<rect x="369.42" y="340.34" width="6.6" height="6.3" fill="#000"/>
<rect x="404.93" y="350.01" width="6.6" height="6.3" fill="#000"/>
<rect x="455.06" y="359.68" width="6.6" height="6.3" fill="#000"/>
<rect x="496.84" y="359.68" width="6.6" height="6.3" fill="#000"/>
<text x="423.5" y="347.3" font-size="12.4" textLength="40.85" lengthAdjust="spacingAndGlyphs"><tspan font-style="italic">P</tspan>&#160;≤&#160;.02</text>
<text x="377.32" y="227.3" font-size="11.72" font-weight="bold" textLength="80.76" lengthAdjust="spacingAndGlyphs" fill="#000">BM Cell Donor</text>
<text x="462.07" y="227.3" font-size="11.39" font-weight="bold" textLength="55.07" lengthAdjust="spacingAndGlyphs" fill="#000">Treatment</text>
<line x1="377.2" y1="230.4" x2="518.4" y2="230.4" stroke="#333" stroke-width="1.3"/>
<line x1="382.7" y1="241.7" x2="402.6" y2="241.7" stroke="#000" stroke-width="1.5"/>
<line x1="382.7" y1="255.8" x2="402.6" y2="255.8" stroke="#000" stroke-width="1.5"/>
<line x1="382.7" y1="270.9" x2="402.6" y2="270.9" stroke="#000" stroke-width="1.5"/>
<rect x="390.1" y="238.8" width="6.4" height="5.8" fill="#000"/>
<rect x="390.82" y="253.43" width="4.75" height="4.75" fill="#fff" stroke="#000" stroke-width="1.45"/>
<circle cx="393.2" cy="270.9" r="2.38" fill="#fff" stroke="#000" stroke-width="1.45"/>
<text x="406.02" y="245.5" font-size="11.19" font-weight="normal" textLength="27.98" lengthAdjust="spacingAndGlyphs" fill="#000">wt B6</text>
<text x="405.82" y="260.5" font-size="11.7" font-weight="normal" textLength="26.67" lengthAdjust="spacingAndGlyphs" fill="#000">IL-15</text>
<text x="432.74" y="256.1" font-size="7.5" font-weight="normal" class="sp" textLength="7.62" lengthAdjust="spacingAndGlyphs" fill="#000">-/-</text>
<text x="443.61" y="260.5" font-size="12.03" font-weight="normal" textLength="14.72" lengthAdjust="spacingAndGlyphs" fill="#000">B6</text>
<text x="405.82" y="275.8" font-size="11.7" font-weight="normal" textLength="26.67" lengthAdjust="spacingAndGlyphs" fill="#000">IL-15</text>
<text x="432.74" y="271.4" font-size="7.5" font-weight="normal" class="sp" textLength="7.62" lengthAdjust="spacingAndGlyphs" fill="#000">-/-</text>
<text x="443.61" y="275.8" font-size="12.03" font-weight="normal" textLength="14.72" lengthAdjust="spacingAndGlyphs" fill="#000">B6</text>
<text x="476.79" y="245.5" font-size="11.75" font-weight="normal" textLength="23.5" lengthAdjust="spacingAndGlyphs" fill="#000">PBS</text>
<text x="476.79" y="260.5" font-size="11.75" font-weight="normal" textLength="23.5" lengthAdjust="spacingAndGlyphs" fill="#000">PBS</text>
<text x="476.21" y="275.8" font-size="11.86" font-weight="normal" textLength="27.04" lengthAdjust="spacingAndGlyphs" fill="#000">IL-15</text>
</svg>
</body></html>
